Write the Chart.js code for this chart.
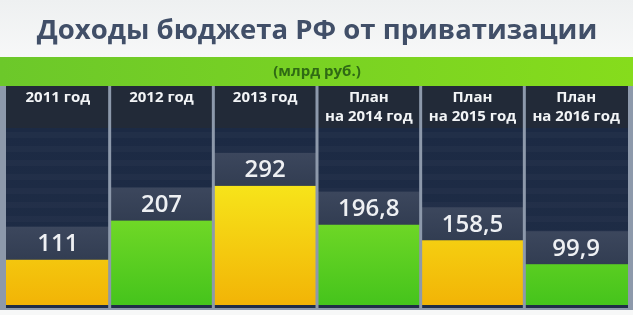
<!DOCTYPE html>
<html>
<head>
<meta charset="utf-8">
<script src="https://cdn.jsdelivr.net/npm/chart.js@4"></script>
<style>
  html, body { margin: 0; padding: 0; background: #f3f4f5; }
  #wrap { width: 633px; height: 315px; }
</style>
</head>
<body>
<div id="wrap"><canvas id="budgetChart" width="633" height="315"></canvas></div>
<script>
// Data
const years = [['2011 год', ''], ['2012 год', ''], ['2013 год', ''], ['План', 'на 2014 год'], ['План', 'на 2015 год'], ['План', 'на 2016 год']];
const revenue = [111, 207, 292, 196.8, 158.5, 99.9];
const barTone = ['yellow', 'green', 'yellow', 'green', 'yellow', 'green'];
const chartTitle = 'Доходы бюджета РФ от приватизации';
const unitLabel = '(млрд руб.)';

const FONT = '"Open Sans", "DejaVu Sans", sans-serif';

function fmt(v) {
  return String(v).replace('.', ',');
}

function barFill(context) {
  const chart = context.chart;
  const area = chart.chartArea;
  if (!area) return '#f0c000';
  const g = chart.ctx.createLinearGradient(0, area.bottom - 130, 0, area.bottom);
  if (barTone[context.dataIndex] === 'yellow') {
    g.addColorStop(0, '#f7e81c');
    g.addColorStop(1, '#f2b406');
  } else {
    g.addColorStop(0, '#86e22c');
    g.addColorStop(1, '#45c41c');
  }
  return g;
}

// Background: page, green unit band, dark panel
const panelBg = {
  id: 'panelBg',
  beforeDraw(chart) {
    const ctx = chart.ctx;
    const w = chart.width;
    ctx.save();
    const page = ctx.createLinearGradient(0, 0, 0, 58);
    page.addColorStop(0, '#eef0f1');
    page.addColorStop(1, '#f7f8f8');
    ctx.fillStyle = page;
    ctx.fillRect(0, 0, w, chart.height);

    const band = ctx.createLinearGradient(0, 0, w, 0);
    band.addColorStop(0, '#6cc82a');
    band.addColorStop(1, '#86dc1c');
    ctx.fillStyle = band;
    ctx.fillRect(0, 57, w, 31);

    // panel frame
    ctx.fillStyle = '#8d99ab';
    ctx.fillRect(0, 86, w, 224);
    ctx.fillStyle = '#222a38';
    ctx.fillRect(6, 86, w - 11, 222);
    const body = ctx.createLinearGradient(0, 128, 0, 308);
    body.addColorStop(0, '#1c2a44');
    body.addColorStop(1, '#1f2d46');
    ctx.fillStyle = body;
    ctx.fillRect(6, 128, w - 11, 180);
    // faint stripes
    ctx.fillStyle = 'rgba(255,255,255,0.025)';
    for (let y = 132; y < 300; y += 14) ctx.fillRect(6, y, w - 11, 6);
    ctx.restore();
  }
};

// Value boxes above bars and column separators
const valueBoxes = {
  id: 'valueBoxes',
  afterDatasetsDraw(chart) {
    const ctx = chart.ctx;
    const meta = chart.getDatasetMeta(0);
    const xs = chart.scales.x;
    ctx.save();
    meta.data.forEach((bar, i) => {
      const left = bar.x - bar.width / 2;
      const h = 33;
      const g = ctx.createLinearGradient(0, bar.y - h, 0, bar.y);
      g.addColorStop(0, '#3c475d');
      g.addColorStop(1, '#323d52');
      ctx.fillStyle = g;
      ctx.fillRect(left, bar.y - h, bar.width, h);
      ctx.fillStyle = '#eef0f3';
      ctx.font = '600 24px ' + FONT;
      ctx.textAlign = 'center';
      ctx.textBaseline = 'middle';
      ctx.fillText(fmt(revenue[i]), bar.x, bar.y - h / 2 + 1);
    });
    // separators between columns
    ctx.fillStyle = '#8d99ab';
    for (let i = 1; i < revenue.length; i++) {
      const x = (xs.getPixelForTick(i - 1) + xs.getPixelForTick(i)) / 2;
      ctx.fillRect(x - 1.5, 86, 3, 222);
    }
    ctx.restore();
  }
};

new Chart(document.getElementById('budgetChart'), {
  type: 'bar',
  data: {
    labels: years,
    datasets: [{
      data: revenue,
      backgroundColor: barFill,
      borderWidth: 0,
      barPercentage: 1,
      categoryPercentage: 1
    }]
  },
  options: {
    responsive: false,
    animation: false,
    layout: { padding: { left: 6, right: 5, bottom: 10, top: 0 } },
    plugins: {
      legend: { display: false },
      tooltip: { enabled: false },
      title: {
        display: true,
        text: chartTitle,
        color: '#414f68',
        font: { family: FONT, size: 27.5, weight: 'bold' },
        padding: { top: 15, bottom: 9 }
      },
      subtitle: {
        display: true,
        text: unitLabel,
        color: '#2f6a14',
        font: { family: FONT, size: 15, weight: 'bold' },
        padding: { top: 6, bottom: 0 }
      }
    },
    scales: {
      x: {
        position: 'top',
        grid: { display: false, drawTicks: false },
        border: { display: false },
        // header row: fixed height so the column labels sit inside the dark panel
        afterFit(scale) { scale.height = 48; },
        ticks: {
          color: '#f2f4f6',
          font: { family: FONT, size: 15, weight: 'bold', lineHeight: 1.25 },
          padding: 3,
          maxRotation: 0,
          autoSkip: false
        }
      },
      y: {
        display: false,
        min: 0,
        max: 431
      }
    }
  },
  plugins: [panelBg, valueBoxes]
});
</script>
</body>
</html>
